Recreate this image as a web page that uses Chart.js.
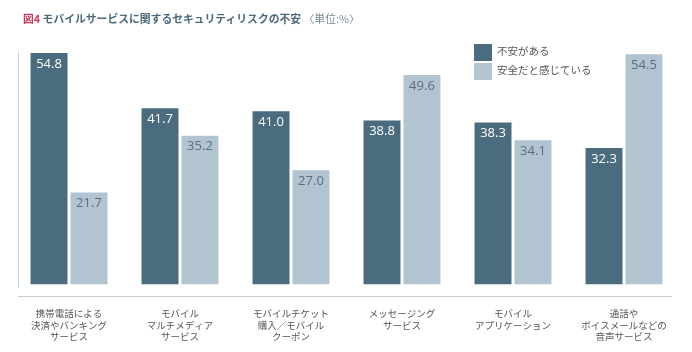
<!DOCTYPE html>
<html lang="ja">
<head>
<meta charset="utf-8">
<script src="https://cdn.jsdelivr.net/npm/chart.js@4/dist/chart.umd.min.js"></script>
<style>
  body { margin: 0; background: #fff; }
  #wrap { position: relative; width: 692px; height: 352px; font-family: "Noto Sans CJK JP", "Noto Sans", sans-serif; }
  #title { position: absolute; left: 23px; top: 10px; font-size: 10.8px; font-weight: 700; color: #4d6a7b; white-space: nowrap; }
  #title .no { color: #c63a5c; }
  #title .unit { font-weight: 400; color: #7a8a94; }
  .lg { position: absolute; left: 474px; font-size: 10.5px; color: #555; white-space: nowrap; }
  .lg span { display: inline-block; width: 18px; height: 17px; vertical-align: middle; margin-right: 5px; }
</style>
</head>
<body>
<div id="wrap">
  <canvas id="chart" width="692" height="352"></canvas>
  <div id="title"><span class="no">図4</span> モバイルサービスに関するセキュリティリスクの不安 <span class="unit">〈単位:%〉</span></div>
  <div class="lg" style="top:43px"><span style="background:#4a6c7e"></span>不安がある</div>
  <div class="lg" style="top:62px"><span style="background:#b1c4cf"></span>安全だと感じている</div>
</div>
<script>
// categories (multi-line labels)
const categories = [
    ['携帯電話による', '決済やバンキング', 'サービス'],
    ['モバイル', 'マルチメディア', 'サービス'],
    ['モバイルチケット', '購入／モバイル', 'クーポン'],
    ['メッセージング', 'サービス'],
    ['モバイル', 'アプリケーション'],
    ['通話や', 'ボイスメールなどの', '音声サービス']
];
const seriesNames = ['不安がある', '安全だと感じている'];
const anxious = [54.8, 41.7, 41.0, 38.8, 38.3, 32.3];
const safe = [21.7, 35.2, 27.0, 49.6, 34.1, 54.5];

const darkColor = '#4a6c7e';
const lightColor = '#b1c4cf';

// value labels inside the top of each bar
const barLabels = {
    id: 'barLabels',
    afterDatasetsDraw(chart) {
        const ctx = chart.ctx;
        ctx.save();
        ctx.font = '13px "Open Sans", sans-serif';
        ctx.textAlign = 'center';
        ctx.textBaseline = 'middle';
        chart.data.datasets.forEach((ds, i) => {
            ctx.fillStyle = i === 0 ? '#ffffff' : '#5b6f7d';
            chart.getDatasetMeta(i).data.forEach((bar, j) => {
                ctx.fillText(ds.data[j].toFixed(1), bar.x, bar.y + 11);
            });
        });
        ctx.restore();
    }
};

// thin frame lines: left vertical and bottom axis
const frame = {
    id: 'frame',
    beforeDatasetsDraw(chart) {
        const { ctx, chartArea } = chart;
        ctx.save();
        ctx.strokeStyle = '#c9d3da';
        ctx.lineWidth = 1;
        ctx.beginPath();
        ctx.moveTo(chartArea.left + 5, chartArea.top + 20);
        ctx.lineTo(chartArea.left + 5, chartArea.bottom - 8);
        ctx.stroke();
        ctx.strokeStyle = '#cccccc';
        ctx.beginPath();
        ctx.moveTo(chartArea.left + 4.5, chartArea.bottom + 0.5);
        ctx.lineTo(chartArea.right - 7.5, chartArea.bottom + 0.5);
        ctx.stroke();
        ctx.restore();
    }
};

new Chart(document.getElementById('chart').getContext('2d'), {
    type: 'bar',
    data: {
        labels: categories,
        datasets: [
            { label: seriesNames[0], data: anxious, backgroundColor: darkColor },
            { label: seriesNames[1], data: safe, backgroundColor: lightColor }
        ]
    },
    options: {
        responsive: false,
        animation: false,
        datasets: {
            bar: { categoryPercentage: 0.72, barPercentage: 0.925 }
        },
        layout: { padding: { left: 13.5, right: 12.5, top: 31, bottom: 0 } },
        scales: {
            y: { display: false, min: -2.8, max: 60 },
            x: {
                grid: { display: false },
                border: { display: false },
                ticks: {
                    color: '#555555',
                    font: { family: '"Noto Sans CJK JP", sans-serif', size: 9.5, lineHeight: 1.2 },
                    padding: 4,
                    maxRotation: 0,
                    autoSkip: false
                },
                afterFit: scale => { scale.height = 56; }
            }
        },
        plugins: {
            legend: { display: false },
            tooltip: { enabled: false }
        }
    },
    plugins: [frame, barLabels]
});
</script>
</body>
</html>
